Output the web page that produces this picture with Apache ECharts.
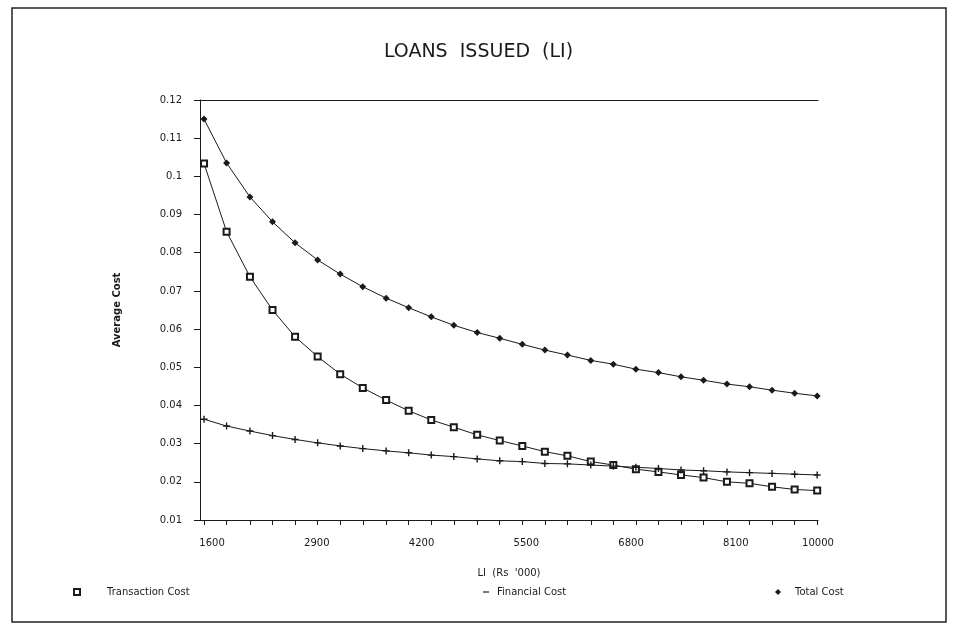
<!DOCTYPE html>
<html>
<head>
<meta charset="utf-8">
<script src="https://cdn.jsdelivr.net/npm/echarts@6/dist/echarts.min.js"></script>
<style>
  html, body { margin: 0; padding: 0; background: #fff; }
  #chartDIV { width: 957px; height: 631px; }
</style>
</head>
<body>
<div id="chartDIV"></div>
<script>
// LI (Rs '000) at each plotted point
var loansIssued = [1500, 1780, 2070, 2350, 2630, 2910, 3190, 3470, 3760, 4040,
                   4320, 4600, 4890, 5170, 5450, 5730, 6010, 6300, 6580, 6860,
                   7140, 7420, 7700, 7990, 8270, 8550, 8830, 9110];
var transactionCost = [0.1034, 0.0855, 0.0737, 0.0650, 0.0580, 0.0528, 0.0482, 0.0446, 0.0414, 0.0386,
                       0.0362, 0.0343, 0.0323, 0.0308, 0.0294, 0.0279, 0.0268, 0.0253, 0.0244, 0.0233,
                       0.0226, 0.0218, 0.0211, 0.0200, 0.0196, 0.0187, 0.0180, 0.0177];
var financialCost = [0.0364, 0.0346, 0.0333, 0.0321, 0.0311, 0.0302, 0.0294, 0.0287, 0.0281, 0.0276,
                     0.0270, 0.0266, 0.0260, 0.0255, 0.0253, 0.0248, 0.0247, 0.0244, 0.0241, 0.0238,
                     0.0235, 0.0231, 0.0229, 0.0226, 0.0224, 0.0222, 0.0220, 0.0218];
var totalCost = [0.1150, 0.1035, 0.0946, 0.0881, 0.0826, 0.0781, 0.0744, 0.0711, 0.0681, 0.0656,
                 0.0632, 0.0610, 0.0591, 0.0576, 0.0560, 0.0545, 0.0532, 0.0518, 0.0508, 0.0495,
                 0.0486, 0.0475, 0.0466, 0.0456, 0.0449, 0.0440, 0.0432, 0.0425];
// x tick labels as printed, and where they sit on the axis
var xTickPos = [1600, 2900, 4200, 5500, 6800, 8100, 9120];
var xTickText = ['1600', '2900', '4200', '5500', '6800', '8100', '10000'];

var FONT = 'DejaVu Sans';
var INK = '#1a1a1a';

function pairs(ys) {
    var out = [];
    for (var i = 0; i < ys.length; i++) {
        out.push([loansIssued[i], ys[i]]);
    }
    return out;
}

var plusPath = 'path://M4,0H6V4H10V6H6V10H4V6H0V4H4Z';
var dashPath = 'path://M0,0H10V2H0Z';

var myChart = echarts.init(document.getElementById('chartDIV'));

var legendStyle = { fontFamily: FONT, fontSize: 10, color: INK };

var option = {
    backgroundColor: '#fff',
    animation: false,
    title: {
        text: 'LOANS  ISSUED  (LI)',
        left: 'center',
        top: 38,
        textStyle: { fontFamily: FONT, fontSize: 19, fontWeight: 'normal', color: INK }
    },
    graphic: [{
        type: 'rect',
        shape: { x: 12, y: 8, width: 934, height: 614 },
        style: { fill: 'none', stroke: '#222', lineWidth: 1.5 }
    }],
    legend: [
        { data: [{ name: 'Transaction Cost', icon: 'emptyRect' }], left: 68, top: 582,
          itemWidth: 6, itemHeight: 6, textStyle: Object.assign({ padding: [0, 0, 0, 22] }, legendStyle) },
        { data: [{ name: 'Financial Cost', icon: dashPath }], left: 478, top: 582,
          itemWidth: 6, itemHeight: 2, textStyle: Object.assign({ padding: [0, 0, 0, 3] }, legendStyle) },
        { data: [{ name: 'Total Cost', icon: 'diamond' }], left: 770, top: 582,
          itemWidth: 6, itemHeight: 6, textStyle: Object.assign({ padding: [0, 0, 0, 9] }, legendStyle) }
    ],
    grid: {
        left: 200,
        right: 139,
        top: 100,
        bottom: 111
    },
    xAxis: [{
        type: 'value',
        min: 1450,
        max: 9120,
        name: "LI  (Rs  '000)",
        nameLocation: 'middle',
        nameGap: 48,
        nameTextStyle: { fontFamily: FONT, fontSize: 10, color: INK },
        axisLine: { lineStyle: { color: INK, width: 1.2 } },
        axisTick: { show: true, length: 5, customValues: loansIssued, lineStyle: { color: INK } },
        axisLabel: {
            customValues: xTickPos,
            margin: 18,
            fontFamily: FONT,
            fontSize: 10,
            color: INK,
            formatter: function (v) {
                var k = xTickPos.indexOf(v);
                return k >= 0 ? xTickText[k] : '';
            }
        },
        splitLine: { show: false }
    }, {
        type: 'value',
        position: 'top',
        min: 1450,
        max: 9120,
        axisLine: { show: true, lineStyle: { color: INK, width: 1.2 } },
        axisTick: { show: false },
        axisLabel: { show: false },
        splitLine: { show: false }
    }],
    yAxis: {
        type: 'value',
        min: 0.01,
        max: 0.12,
        interval: 0.01,
        name: 'Average Cost',
        nameLocation: 'middle',
        nameRotate: 90,
        nameGap: 78,
        nameTextStyle: { fontFamily: FONT, fontSize: 10, fontWeight: 'bold', color: INK },
        axisLine: { show: true, lineStyle: { color: INK, width: 1 } },
        axisTick: { show: true, length: 6, lineStyle: { color: INK } },
        axisLabel: { margin: 18, fontFamily: FONT, fontSize: 10, color: INK },
        splitLine: { show: false }
    },
    series: [
        {
            name: 'Transaction Cost',
            type: 'line',
            data: pairs(transactionCost),
            symbol: 'emptyRect',
            symbolSize: 6,
            color: INK,
            itemStyle: { color: INK, borderWidth: 1 },
            lineStyle: { color: INK, width: 1 }
        },
        {
            name: 'Financial Cost',
            type: 'line',
            data: pairs(financialCost),
            symbol: plusPath,
            symbolSize: 7,
            color: INK,
            itemStyle: { color: INK },
            lineStyle: { color: INK, width: 1 }
        },
        {
            name: 'Total Cost',
            type: 'line',
            data: pairs(totalCost),
            symbol: 'diamond',
            symbolSize: 7,
            color: INK,
            itemStyle: { color: INK },
            lineStyle: { color: INK, width: 1 }
        }
    ]
};

myChart.setOption(option);
</script>
</body>
</html>
